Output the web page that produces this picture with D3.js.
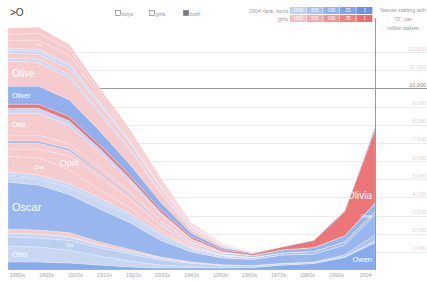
<!DOCTYPE html>
<html>
<head>
<meta charset="utf-8">
<script src="https://cdn.jsdelivr.net/npm/d3@7"></script>
<style>
body{margin:0;background:#fff;}
text{font-family:"Liberation Sans",Arial,sans-serif;}
</style>
</head>
<body>
<div id="root"></div>
<script>
// names starting with "O", per million babies

var decades=['1880s','1890s','1900s','1910s','1920s','1930s','1940s','1950s','1960s','1970s','1980s','1990s','2004'];
var yTicks=[1000,2000,3000,4000,5000,6000,7000,8000,9000,10000,11000,12000];
var rankCells=[1000,500,100,25,1];

var names=['Ocie','Odessa','Ola','Olaf','Ole','Olga','Olin','Olive','Oliver','Olivia','Ollie','Ollie','Oma','Omar','Ona','Opal','Ora','Oral','Orlando','Orville','Oscar','Ossie','Osvaldo','Oswald','Otis','Otto','Owen'];
var sexes=['g','g','g','b','b','g','b','g','b','g','b','g','g','b','g','g','g','b','b','b','b','g','b','b','b','b','b'];
// 2004 rank, 0 = not in top 1000
var rank2004=[0,0,0,0,0,0,0,0,90,4,0,0,0,140,0,0,0,0,300,0,160,0,550,0,900,0,50];

var ocie=[330,330,275,220,165,110,55,15,0,0,0,0,0];
var odessa=[330,385,330,275,220,165,85,30,10,0,0,0,0];
var ola=[440,495,470,275,220,165,55,30,0,0,0,0,0];
var olaf=[110,110,110,85,55,55,30,10,0,0,0,0,10];
var ole=[165,165,165,110,85,55,30,10,0,0,0,0,0];
var olga=[275,275,330,330,300,220,110,55,15,10,10,10,10];
var olin=[165,165,165,140,110,85,55,30,10,5,0,0,0];
var olive=[1375,1320,1210,935,770,495,165,100,15,10,10,15,35];
var oliver=[990,990,935,770,605,410,195,110,55,30,35,85,220];
var olivia=[220,220,220,195,165,140,110,85,85,165,385,1320,4015];
var ollieB=[275,275,275,220,165,110,55,30,10,0,0,0,0];
var ollieG=[1210,1210,990,825,550,330,140,55,15,0,0,0,0];
var oma=[330,330,275,220,165,110,55,15,0,0,0,0,0];
var omar=[110,110,110,85,85,55,55,55,85,165,220,330,495];
var ona=[330,330,275,220,165,110,30,10,0,0,0,0,0];
var opal=[385,495,770,715,495,275,110,45,10,0,0,0,0];
var ora=[880,935,770,440,275,165,55,15,0,0,0,0,0];
var oral=[165,165,165,165,140,110,55,30,10,0,0,0,0];
var orlando=[55,55,55,55,55,55,55,55,70,110,140,165,165];
var orville=[330,330,385,385,330,220,110,55,30,10,0,0,0];
var oscar=[2585,2475,2090,1815,1460,910,550,370,325,455,440,550,1100];
var ossie=[220,220,220,165,110,55,30,10,0,0,0,0,0];
var osvaldo=[0,0,0,0,0,0,0,0,5,15,30,85,330];
var oswald=[220,220,220,165,140,110,55,30,10,0,0,0,0];
var otis=[495,495,520,440,385,275,165,110,85,85,55,55,85];
var otto=[880,825,715,495,330,165,85,30,10,0,0,0,0];
var owen=[440,440,385,275,165,110,110,110,140,275,360,690,1510];

var counts=[ocie,odessa,ola,olaf,ole,olga,olin,olive,oliver,olivia,ollieB,ollieG,oma,omar,ona,opal,ora,oral,orlando,orville,oscar,ossie,osvaldo,oswald,otis,otto,owen];

// label sizes (style only)
var labelSize={'Ola':4,'Olive':10,'Oliver':7,'Olivia':10,'Ollieg':7,'Opal':9,'Ora':6,'Oscar':11,'Otis':4.5,'Otto':8,'Omar':4.5,'Owen':7.5};

var W=427,H=281;
var left=8,right=375,base=270;

var svg=d3.select('#root').append('svg').attr('width',W).attr('height',H);

var x=d3.scalePoint().domain(decades).range([left,right]);
var xl=d3.scalePoint().domain(decades).range([17,365]);
var y=d3.scaleLinear().domain([0,12000]).range([base,52]);

var boyCol=d3.scaleLog().domain(rankCells).range(['#bfd0f2','#abc2f0','#93b1ed','#7fa2ea','#6a92e6']).clamp(true);
var girlCol=d3.scaleLog().domain(rankCells).range(['#f4c0c1','#f2abac','#f09495','#ee8283','#eb6d6e']).clamp(true);
function colorOf(k){
	var r=rank2004[k];
	if(sexes[k]=='b'){return r?boyCol(r):'#c9d7f2'}
	return r?girlCol(r):'#f6cbcd';
}

// grid
svg.append('g').selectAll('line').data(yTicks).enter().append('line')
	.attr('x1',left).attr('x2',W)
	.attr('y1',function(d){return Math.round(y(d))+0.5}).attr('y2',function(d){return Math.round(y(d))+0.5})
	.attr('stroke',function(d){return d==10000?'#9a9a9a':'#ececec'}).attr('stroke-width',1);

svg.append('g').selectAll('text').data(yTicks).enter().append('text')
	.attr('x',426).attr('y',function(d){return y(d)-1.5})
	.attr('text-anchor','end').attr('font-size',5.5)
	.attr('fill',function(d){return d==10000?'#888':'#d4d4d4'})
	.text(function(d){return d3.format(',')(d)});

// stack
var rows=decades.map(function(d,i){return {i:i}});
var stack=d3.stack().keys(d3.range(names.length).reverse())
	.value(function(row,k){return counts[k][row.i]});
var series=stack(rows);

var area=d3.area()
	.x(function(d,i){return x(decades[i])})
	.y0(function(d){return y(d[0])})
	.y1(function(d){return y(d[1])});

svg.append('g').selectAll('path').data(series).enter().append('path')
	.attr('d',area)
	.attr('fill',function(s){return colorOf(s.key)})
	.attr('stroke','#fff').attr('stroke-opacity',0.35).attr('stroke-width',0.6);

// labels
var lg=svg.append('g');
series.forEach(function(s){
	var k=s.key, nm=names[k];
	var sz=labelSize[nm]||labelSize[nm+sexes[k]];
	if(!sz) return;
	if(nm=='Ollie'&&sexes[k]!='g') return;
	var vals=counts[k];
	var i=d3.maxIndex(vals);
	var last=decades.length-1;
	var anchor='middle', x0=x(decades[i]);
	if(i==0){anchor='start';x0=x(decades[0])+4}
	if(i==last){anchor='end';x0=x(decades[last])-3}
	var t=lg.append('text').attr('x',x0).attr('text-anchor',anchor)
		.attr('font-size',sz).attr('fill','#fff').attr('dy','0.35em').text(nm);
	var w=t.node().getComputedTextLength();
	var cx=anchor=='start'?x0+w/2:(anchor=='end'?x0-w/2:x0);
	var j=0;
	while(j<last-1 && x(decades[j+1])<cx) j++;
	var a=x(decades[j]), bb=x(decades[j+1]);
	var f=Math.max(0,Math.min(1,(cx-a)/(bb-a)));
	var top=s[j][1]+(s[j+1][1]-s[j][1])*f;
	var bot=s[j][0]+(s[j+1][0]-s[j][0])*f;
	t.attr('y',y((top+bot)/2));
});

// crosshair
svg.append('line').attr('x1',right+0.5).attr('x2',right+0.5).attr('y1',18).attr('y2',base)
	.attr('stroke','#999').attr('stroke-width',1);

// x axis
var xAxis=d3.axisBottom(xl).tickSize(0).tickPadding(3);
var ax=svg.append('g').attr('transform','translate(0,'+base+')').call(xAxis);
ax.select('.domain').remove();
ax.selectAll('text').attr('font-size',5.5).attr('fill','#aaa').attr('font-family','"Liberation Sans",Arial,sans-serif');

// top controls
svg.append('text').attr('x',10).attr('y',16).attr('font-size',10).attr('fill','#444').text('>O');

var boxes=[{t:'boys',x:115,on:false},{t:'girls',x:149,on:false},{t:'both',x:183,on:true}];
var bx=svg.append('g').selectAll('g').data(boxes).enter().append('g')
	.attr('transform',function(d){return 'translate('+d.x+',10)'});
bx.append('rect').attr('x',0.5).attr('y',0.5).attr('width',5).attr('height',5)
	.attr('fill',function(d){return d.on?'#777':'#fff'}).attr('stroke','#888').attr('stroke-width',0.7);
bx.append('text').attr('x',6.5).attr('y',5.5).attr('font-size',5.5).attr('fill','#999').text(function(d){return d.t});

// rank legend
svg.append('text').attr('x',288).attr('y',13).attr('text-anchor','end').attr('font-size',5.5).attr('fill','#999').text('2004 rank, boys');
svg.append('text').attr('x',288).attr('y',21).attr('text-anchor','end').attr('font-size',5.5).attr('fill','#999').text('girls');

var cw=16.6;
[['b',7],['g',15]].forEach(function(r){
	var cells=svg.append('g').selectAll('g').data(rankCells).enter().append('g')
		.attr('transform',function(d,i){return 'translate('+(290+i*cw)+','+r[1]+')'});
	cells.append('rect').attr('width',cw-0.6).attr('height',7)
		.attr('fill',function(d){return r[0]=='b'?boyCol(d):girlCol(d)});
	cells.append('text').attr('x',cw/2).attr('y',5.2).attr('text-anchor','middle')
		.attr('font-size',4.5).attr('fill','#fff').text(function(d){return d});
});

// title on the right
var title=['Names starting with','"O", per','million babies'];
svg.append('g').selectAll('text').data(title).enter().append('text')
	.attr('x',403).attr('y',function(d,i){return 12+i*9})
	.attr('text-anchor','middle').attr('font-size',5.2).attr('fill','#999')
	.text(function(d){return d});
</script>
</body>
</html>
